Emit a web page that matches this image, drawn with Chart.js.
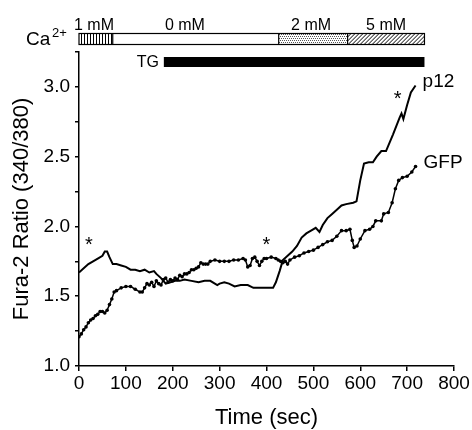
<!DOCTYPE html>
<html>
<head>
<title>fura-2 ratio</title>
<script src="https://cdn.jsdelivr.net/npm/chart.js@4.4.0/dist/chart.umd.min.js"></script>
<style>
  body { margin: 0; background: #fff; }
  canvas { display: block; }
</style>
</head>
<body>
<canvas id="chart" width="472" height="430"></canvas>
<script>
// time (sec) and fura-2 ratio
var gfpTime = [0,5,10,15,20,25,30,35,40,45,50,55,60,65,70,75,80,90,100,110,120,130,135,140,145,150,155,160,165,170,175,180,185,190,195,200,205,210,215,220,225,230,235,240,245,250,255,260,265,270,275,280,290,300,310,320,330,340,350,355,360,365,370,375,380,385,390,395,400,410,420,425,430,435,440,445,450,460,470,480,490,500,510,520,530,540,550,560,570,578,583,587,593,600,610,620,627,633,645,650,660,668,675,682,690,700,710,718];
var gfpRatio = [1.21,1.23,1.26,1.28,1.31,1.33,1.34,1.36,1.37,1.39,1.39,1.38,1.40,1.44,1.48,1.53,1.54,1.56,1.57,1.57,1.55,1.53,1.53,1.56,1.59,1.58,1.60,1.57,1.61,1.59,1.58,1.62,1.63,1.60,1.62,1.61,1.63,1.62,1.65,1.64,1.66,1.66,1.67,1.69,1.69,1.70,1.71,1.74,1.73,1.73,1.73,1.75,1.76,1.75,1.75,1.75,1.76,1.76,1.77,1.76,1.71,1.72,1.77,1.78,1.75,1.72,1.75,1.77,1.77,1.78,1.77,1.76,1.75,1.74,1.75,1.73,1.76,1.78,1.79,1.81,1.82,1.83,1.85,1.87,1.89,1.90,1.93,1.97,1.97,1.98,1.90,1.85,1.86,1.91,1.97,1.98,2.00,2.04,2.04,2.09,2.10,2.17,2.27,2.33,2.35,2.36,2.39,2.43];

var p12Time = [0,10,20,30,40,50,55,60,65,72,80,90,100,110,120,130,140,150,160,165,175,185,195,205,215,225,240,255,268,280,295,300,310,320,332,345,360,372,385,400,414,420,428,435,445,455,465,475,485,495,505,513,520,530,540,550,560,570,585,592,600,608,618,627,635,645,655,670,684,688,692,700,708,714,718];
var p12Ratio = [1.67,1.70,1.73,1.75,1.77,1.79,1.82,1.82,1.78,1.73,1.73,1.72,1.71,1.69,1.69,1.68,1.69,1.67,1.68,1.66,1.63,1.59,1.60,1.61,1.61,1.62,1.61,1.60,1.61,1.61,1.58,1.59,1.60,1.59,1.57,1.58,1.58,1.56,1.56,1.56,1.56,1.60,1.68,1.76,1.79,1.82,1.86,1.92,1.95,1.97,1.99,1.96,2.01,2.06,2.09,2.12,2.15,2.16,2.17,2.18,2.33,2.45,2.46,2.46,2.50,2.54,2.54,2.66,2.78,2.81,2.77,2.87,2.96,2.99,3.01];

var xTicks = [0,100,200,300,400,500,600,700,800];
var yLabels = [1.0,1.5,2.0,2.5,3.0];

// Ca2+ bath bar and thapsigargin bar, in seconds
var caEdges = [0,72,426,573,737];
var caLabels = ['1 mM','0 mM','2 mM','5 mM'];
var caLabelTimes = [32,226,495,655];
var tgRange = [181,737];
// asterisks [time, ratio]
var starTime = [21,400,680];
var starRatio = [1.89,1.89,2.94];

function pts(t, v) {
  var out = [];
  for (var i = 0; i < t.length; i++) out.push({x: t[i], y: v[i]});
  return out;
}

var FONT = '"Liberation Sans", Arial, sans-serif';

var decor = {
  id: 'decor',
  afterDraw: function(chart) {
    var c = chart.ctx, xs = chart.scales.x, ys = chart.scales.y;
    var px = function(t) { return xs.getPixelForValue(t); };
    c.save();
    c.fillStyle = '#000';
    c.strokeStyle = '#000';

    // Ca bar
    var top = 33, h = 11;
    var x0 = px(caEdges[0]), x1 = px(caEdges[1]), x2 = px(caEdges[2]), x3 = px(caEdges[3]), x4 = px(caEdges[4]);
    c.lineWidth = 1;
    // vertical hatch
    c.beginPath();
    for (var x = x0 + 2; x < x1; x += 3) { c.moveTo(Math.round(x) + 0.5, top); c.lineTo(Math.round(x) + 0.5, top + h); }
    c.stroke();
    // stipple
    c.fillStyle = '#555';
    for (var yy = top + 1; yy < top + h; yy += 2) {
      for (var xx = x2 + ((yy - top) % 4 === 1 ? 0 : 1); xx < x3; xx += 2) c.fillRect(Math.round(xx), yy, 1, 1);
    }
    // diagonal hatch
    c.save();
    c.beginPath(); c.rect(x3, top, x4 - x3, h); c.clip();
    c.beginPath();
    for (var d = x3 - h; d < x4 + h; d += 4) { c.moveTo(d, top + h); c.lineTo(d + h, top); }
    c.stroke();
    c.restore();
    c.lineWidth = 1.2;
    c.strokeRect(x0, top + 0.5, x4 - x0, h);
    c.beginPath();
    [x1, x2, x3].forEach(function(x) { c.moveTo(x, top); c.lineTo(x, top + h); });
    c.stroke();

    c.fillStyle = '#000';
    c.font = '16px ' + FONT;
    c.textAlign = 'center'; c.textBaseline = 'alphabetic';
    for (var i = 0; i < caLabels.length; i++) c.fillText(caLabels[i], px(caLabelTimes[i]), 30);

    c.textAlign = 'left';
    c.font = '19px ' + FONT;
    c.fillText('Ca', 26, 45);
    c.font = '13px ' + FONT;
    c.fillText('2+', 52, 36.5);

    // TG bar
    c.fillRect(px(tgRange[0]), 57, px(tgRange[1]) - px(tgRange[0]), 10);
    c.font = '16px ' + FONT;
    c.textAlign = 'right'; c.textBaseline = 'middle';
    c.fillText('TG', px(tgRange[0]) - 5, 63);

    // asterisks
    c.font = '20px ' + FONT;
    c.textAlign = 'center';
    for (var j = 0; j < starTime.length; j++) c.fillText('*', px(starTime[j]), ys.getPixelForValue(starRatio[j]) + 4);

    // series labels
    c.font = '19px ' + FONT;
    c.textAlign = 'left';
    c.fillText('p12', px(p12Time[p12Time.length - 1]) + 7, ys.getPixelForValue(p12Ratio[p12Ratio.length - 1]) - 4);
    c.fillText('GFP', px(gfpTime[gfpTime.length - 1]) + 8, ys.getPixelForValue(gfpRatio[gfpRatio.length - 1]) - 4);
    c.restore();
  }
};

var ctx = document.getElementById('chart').getContext('2d');
var tickFont = {family: FONT, size: 19};
var titleFont = {family: FONT, size: 22, lineHeight: 1};

var myChart = new Chart(ctx, {
  type: 'line',
  data: {
    datasets: [{
      label: 'p12',
      data: pts(p12Time, p12Ratio),
      borderColor: '#000',
      borderWidth: 2,
      pointRadius: 0,
      tension: 0
    }, {
      label: 'GFP',
      data: pts(gfpTime, gfpRatio),
      borderColor: '#000',
      backgroundColor: '#000',
      borderWidth: 1.5,
      pointRadius: 1.8,
      pointBorderWidth: 0,
      tension: 0
    }]
  },
  options: {
    responsive: false,
    animation: false,
    layout: {padding: {top: 52, right: 18, left: 0, bottom: 0}},
    plugins: {legend: {display: false}, tooltip: {enabled: false}},
    scales: {
      x: {
        type: 'linear',
        min: 0, max: 800,
        afterBuildTicks: function(s) { s.ticks = xTicks.map(function(v) { return {value: v}; }); },
        afterFit: function(s) { s.height = 64; },
        ticks: {color: '#000', font: tickFont, padding: 1, maxRotation: 0},
        grid: {drawOnChartArea: false, drawTicks: true, tickLength: 5, color: '#000', lineWidth: 1.5},
        border: {color: '#000', width: 1.5},
        title: {display: true, text: 'Time (sec)', color: '#000', font: titleFont, padding: {top: 0, bottom: 1}}
      },
      y: {
        type: 'linear',
        min: 1, max: 3.25,
        ticks: {
          stepSize: 0.25, color: '#000', font: tickFont, padding: 5,
          callback: function(v) { return yLabels.indexOf(v) >= 0 ? v.toFixed(1) : ''; }
        },
        afterFit: function(s) { s.width = 79; },
        grid: {drawOnChartArea: false, drawTicks: true, tickLength: 4, color: '#000', lineWidth: 1.5},
        border: {color: '#000', width: 1.5},
        title: {display: true, text: 'Fura-2 Ratio (340/380)', color: '#000', font: titleFont, padding: {top: 11, bottom: 0}}
      }
    }
  },
  plugins: [decor]
});
</script>
</body>
</html>
